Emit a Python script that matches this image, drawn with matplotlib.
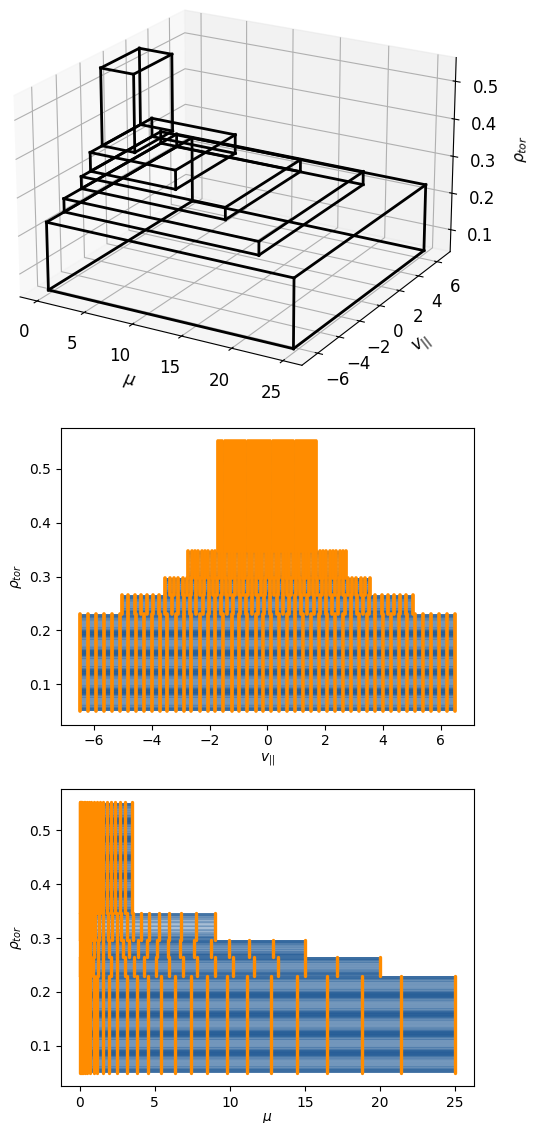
import numpy as np
import matplotlib
matplotlib.use('Agg')
import matplotlib.pyplot as plt
from matplotlib.patches import Rectangle

W = 534
H = 1123

# outer box of each block, from bottom to top
mu_max = [25.0, 20.0, 15.0, 9.0, 3.49]
vpar_max = [6.5, 5.03, 3.54, 2.74, 1.7]
rho_min = [0.05, 0.23, 0.265, 0.297, 0.347]
rho_max = [0.23, 0.265, 0.297, 0.347, 0.552]

# grid nodes in rho
rho1 = [0.05, 0.0507, 0.0529, 0.0561, 0.0601, 0.0651, 0.0709, 0.0759, 0.0799, 0.0831, 0.0853, 0.086,
        0.0867, 0.0889, 0.0921, 0.0961, 0.1011, 0.1069, 0.1119, 0.1159, 0.1191, 0.1213, 0.122,
        0.1227, 0.1249, 0.1281, 0.1321, 0.1371, 0.1429, 0.1479, 0.1519, 0.1551, 0.1573, 0.158,
        0.1587, 0.1609, 0.1641, 0.1681, 0.1731, 0.1789, 0.1839, 0.1879, 0.1911, 0.1933, 0.194,
        0.1947, 0.1969, 0.2001, 0.2041, 0.2091, 0.2149, 0.2199, 0.2239, 0.2271, 0.2293, 0.23]
rho2 = [0.23, 0.2307, 0.2328, 0.236, 0.2398, 0.2447, 0.2503, 0.2552, 0.2591, 0.2622, 0.2643, 0.265]
rho3 = [0.265, 0.2656, 0.2676, 0.2704, 0.274, 0.2784, 0.2836, 0.288, 0.2916, 0.2944, 0.2964, 0.297]
rho4 = [0.297, 0.298, 0.301, 0.3055, 0.311, 0.318, 0.326, 0.333, 0.3385, 0.343, 0.346, 0.347]
rho5 = [0.347, 0.3477, 0.3497, 0.3528, 0.3566, 0.3614, 0.3668, 0.3716, 0.3754, 0.3785, 0.3805, 0.3812,
        0.3819, 0.3839, 0.387, 0.3908, 0.3956, 0.401, 0.4058, 0.4096, 0.4127, 0.4147, 0.4154,
        0.4161, 0.4181, 0.4212, 0.425, 0.4298, 0.4352, 0.44, 0.4438, 0.4469, 0.4489, 0.4496,
        0.4503, 0.4523, 0.4554, 0.4592, 0.464, 0.4694, 0.4742, 0.478, 0.4811, 0.4831, 0.4838,
        0.4845, 0.4865, 0.4896, 0.4934, 0.4982, 0.5036, 0.5084, 0.5122, 0.5153, 0.5173, 0.518,
        0.5187, 0.5207, 0.5238, 0.5276, 0.5324, 0.5378, 0.5426, 0.5464, 0.5495, 0.5515, 0.552]
rho_nodes = [rho1, rho2, rho3, rho4, rho5]

# grid nodes in v_par, positive half only, the grids are symmetric
vpar1 = [0.14, 0.41, 0.69, 0.97, 1.24, 1.52, 1.80, 2.07, 2.35, 2.63, 2.90, 3.18,
         3.46, 3.73, 4.01, 4.29, 4.56, 4.84, 5.12, 5.39, 5.67, 5.95, 6.22, 6.5]
vpar2 = [0.107, 0.321, 0.535, 0.749, 0.963, 1.177, 1.391, 1.605, 1.819, 2.033, 2.247, 2.461,
         2.675, 2.889, 3.103, 3.317, 3.531, 3.745, 3.959, 4.173, 4.387, 4.601, 4.815, 5.03]
vpar3 = [0.075, 0.226, 0.377, 0.527, 0.678, 0.828, 0.979, 1.13, 1.28, 1.431, 1.581, 1.732,
         1.883, 2.033, 2.184, 2.335, 2.485, 2.636, 2.786, 2.937, 3.088, 3.238, 3.389, 3.54]
vpar4 = [0.058, 0.175, 0.292, 0.408, 0.525, 0.641, 0.758, 0.875, 0.991, 1.108, 1.224, 1.341,
         1.458, 1.574, 1.691, 1.807, 1.924, 2.041, 2.157, 2.274, 2.39, 2.507, 2.624, 2.74]
vpar5 = [0.036, 0.108, 0.181, 0.253, 0.325, 0.398, 0.47, 0.542, 0.615, 0.687, 0.759, 0.832,
         0.904, 0.976, 1.049, 1.121, 1.193, 1.266, 1.338, 1.41, 1.483, 1.555, 1.627, 1.7]
vpar_nodes = [vpar1, vpar2, vpar3, vpar4, vpar5]

# grid nodes in mu
mu1 = [25.0, 21.42, 18.78, 16.47, 14.47, 12.73, 11.15, 9.8, 8.51, 7.38, 6.33, 5.4, 4.55,
       3.8, 3.13, 2.51, 1.98, 1.53, 1.13, 0.93, 0.7, 0.5, 0.35, 0.22, 0.12, 0.05, 0.0]
mu2 = [20.0, 17.15, 15.0, 13.18, 11.6, 10.22, 8.98, 7.8, 6.85, 5.93, 5.09, 4.31, 3.62,
       3.02, 2.51, 2.05, 1.58, 1.22, 0.89, 0.65, 0.45, 0.3, 0.17, 0.08, 0.02, 0.0]
mu3 = [15.0, 12.89, 11.27, 9.93, 8.73, 7.6, 6.67, 5.89, 5.15, 4.47, 3.89, 3.27, 2.85,
       2.45, 1.93, 1.55, 1.22, 0.93, 0.7, 0.5, 0.35, 0.22, 0.12, 0.05, 0.0]
mu4 = [9.0, 7.73, 6.73, 5.93, 5.25, 4.6, 4.05, 3.58, 3.13, 2.78, 2.51, 2.13, 1.85,
       1.53, 1.29, 1.0, 0.8, 0.6, 0.45, 0.32, 0.2, 0.1, 0.04, 0.0]
mu5 = [3.49, 3.0, 2.65, 2.33, 2.05, 1.8, 1.55, 1.33, 1.12, 0.95, 0.78, 0.63, 0.5,
       0.38, 0.27, 0.18, 0.1, 0.05, 0.01, 0.0]
mu_nodes = [mu1, mu2, mu3, mu4, mu5]

blue = '#1a5592'
orange = 'darkorange'

fig = plt.figure(figsize=(W / 100, H / 100), dpi=100)


def px_axes(x0, y0, x1, y1, **kw):
    return fig.add_axes([x0 / W, 1 - y1 / H, (x1 - x0) / W, (y1 - y0) / H], **kw)


def blue_rows(ax, left, right, i):
    # thick see through lines, kept inside their block by a clip
    clip = Rectangle((left, rho_min[i]), right - left, rho_max[i] - rho_min[i], transform=ax.transData)
    for r in rho_nodes[i]:
        line, = ax.plot([left, right], [r, r], color=blue, alpha=0.38, lw=4.2, solid_capstyle='butt')
        line.set_clip_path(clip)
        line.set_snap(False)


## 1.3d boxes
ax = px_axes(-9, -59, 475, 425, projection='3d')
ax.patch.set_visible(False)
ax.view_init(elev=21, azim=-60)
ax.set_box_aspect((4, 4, 2.65))
for i in range(len(mu_max)):
    xs = [0, mu_max[i]]
    ys = [-vpar_max[i], vpar_max[i]]
    zs = [rho_min[i], rho_max[i]]
    for y in ys:
        for z in zs:
            ax.plot(xs, [y, y], [z, z], color='k', lw=2)
    for x in xs:
        for z in zs:
            ax.plot([x, x], ys, [z, z], color='k', lw=2)
    for x in xs:
        for y in ys:
            ax.plot([x, x], [y, y], zs, color='k', lw=2)
ax.set_xticks([0, 5, 10, 15, 20, 25])
ax.set_yticks([-6, -4, -2, 0, 2, 4, 6])
ax.set_zticks([0.1, 0.2, 0.3, 0.4, 0.5])
ax.tick_params(labelsize=12, pad=5)
ax.tick_params(axis='y', pad=4)
ax.set_xlabel(r'$\mu$', fontsize=12, labelpad=8)
ax.set_ylabel(r'$v_{||}$', fontsize=12, labelpad=6)
ax.set_zlabel(r'$\rho_{tor}$', fontsize=11, labelpad=9)

## 2.rho over v_par
ax = px_axes(61, 427.5, 473.7, 724.5)
for i in range(len(vpar_nodes)):
    blue_rows(ax, -vpar_max[i], vpar_max[i], i)
for i in range(len(vpar_nodes)):
    for v in vpar_nodes[i]:
        ax.plot([-v, -v], [rho_min[i], rho_max[i]], color=orange, lw=2.7, solid_capstyle='round')
        ax.plot([v, v], [rho_min[i], rho_max[i]], color=orange, lw=2.7, solid_capstyle='round')
ax.set_xlabel(r'$v_{||}$', labelpad=2)
ax.set_ylabel(r'$\rho_{tor}$')

## 3.rho over mu
ax = px_axes(61, 789, 473.7, 1086)
for i in range(len(mu_nodes)):
    blue_rows(ax, 0, mu_max[i], i)
for i in range(len(mu_nodes)):
    for m in mu_nodes[i]:
        ax.plot([m, m], [rho_min[i], rho_max[i]], color=orange, lw=2.4, solid_capstyle='round')
ax.set_xlabel(r'$\mu$', labelpad=1)
ax.set_ylabel(r'$\rho_{tor}$')

fig.savefig('out.png', dpi=100)
